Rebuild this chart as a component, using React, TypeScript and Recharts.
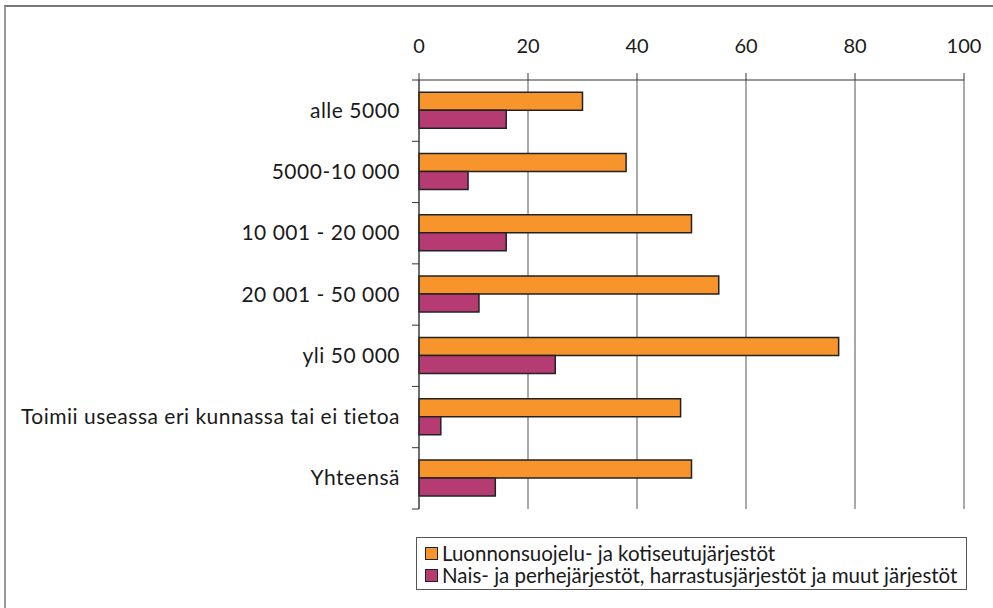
import React from 'react';
import { BarChart, Bar, XAxis, YAxis, CartesianGrid, Legend } from 'recharts';

const categories = [
    'alle 5000',
    '5000-10 000',
    '10 001 - 20 000',
    '20 001 - 50 000',
    'yli 50 000',
    'Toimii useassa eri kunnassa tai ei tietoa',
    'Yhteensä',
];
const luonto = [30, 38, 50, 55, 77, 48, 50];
const nais = [16, 9, 16, 11, 25, 4, 14];
const xTicks = [0, 20, 40, 60, 80, 100];

const seriesNames = [
    'Luonnonsuojelu- ja kotiseutujärjestöt',
    'Nais- ja perhejärjestöt, harrastusjärjestöt ja muut järjestöt',
];

const data = categories.map((name, i) => ({ name, luonto: luonto[i], nais: nais[i] }));

const FONT = 'Lato, "Open Sans", sans-serif';
const PLOT_TOP = 80;
const PLOT_BOTTOM = 509;
const BAND = (PLOT_BOTTOM - PLOT_TOP) / categories.length;

// category label + tick marks on the band boundaries (Excel style)
const CategoryTick = (props: any) => {
    const { x, y, payload, index } = props;
    const axisX = x + 19;
    const top = y - BAND / 2;
    return (
        <g>
            <line x1={axisX - 7} x2={axisX} y1={top} y2={top} stroke="#333" />
            {index === categories.length - 1 && (
                <line x1={axisX - 7} x2={axisX} y1={top + BAND} y2={top + BAND} stroke="#333" />
            )}
            <text
                x={x}
                y={y}
                dy={7}
                textAnchor="end"
                fill="#1a1a1a"
                fontSize={21}
                letterSpacing={0.5}
                fontFamily={FONT}
            >
                {payload.value}
            </text>
        </g>
    );
};

const LegendBox = ({ payload }: any) => (
    <div style={{ border: '1px solid #555', padding: '4px 8px', background: '#fff', boxSizing: 'border-box', height: 53 }}>
        {(payload || []).map((p: any, i: number) => (
            <div key={i} style={{ display: 'flex', alignItems: 'center', height: 22 }}>
                <span
                    style={{
                        display: 'inline-block',
                        width: 11,
                        height: 11,
                        background: p.color,
                        border: '1.5px solid #222',
                        marginRight: 4,
                    }}
                />
                <span style={{ fontSize: 20.5, fontFamily: FONT, color: '#1a1a1a', whiteSpace: 'nowrap' }}>{p.value}</span>
            </div>
        ))}
    </div>
);

export default function App() {
    return (
        <div style={{ position: 'absolute', left: 0, top: 0, width: 993, height: 608, background: '#fff' }}>
            <div
                style={{
                    position: 'absolute',
                    left: 4,
                    top: 5,
                    width: 993,
                    height: 608,
                    borderTop: '2px solid #777',
                    borderLeft: '2px solid #999',
                }}
            />
            <BarChart
                width={993}
                height={608}
                data={data}
                layout="vertical"
                margin={{ top: 40, right: 29, left: 0, bottom: 99 }}
                barCategoryGap="20%"
                barGap={0}
                style={{ position: 'absolute', left: 0, top: 0 }}
            >
                <CartesianGrid xAxisId="top" vertical horizontal={false} stroke="#555" />
                <XAxis
                    xAxisId="top"
                    type="number"
                    orientation="top"
                    domain={[0, 100]}
                    ticks={xTicks}
                    height={40}
                    tickSize={7}
                    tickMargin={20}
                    axisLine={{ stroke: '#333' }}
                    tickLine={{ stroke: '#333' }}
                    tick={{ fill: '#1a1a1a', fontSize: 20, fontFamily: FONT }}
                />
                <XAxis
                    xAxisId="bottom"
                    type="number"
                    orientation="bottom"
                    domain={[0, 100]}
                    ticks={xTicks}
                    height={0}
                    tick={false}
                    tickLine={false}
                    axisLine={{ stroke: '#999' }}
                />
                <YAxis
                    type="category"
                    dataKey="name"
                    width={419}
                    tickSize={7}
                    tickMargin={12}
                    tickLine={false}
                    axisLine={{ stroke: '#333' }}
                    tick={<CategoryTick />}
                    interval={0}
                />
                <Bar
                    xAxisId="top"
                    dataKey="luonto"
                    name={seriesNames[0]}
                    fill="#F7942B"
                    stroke="#222"
                    strokeWidth={1.5}
                    isAnimationActive={false}
                />
                <Bar
                    xAxisId="top"
                    dataKey="nais"
                    name={seriesNames[1]}
                    fill="#B73B73"
                    stroke="#222"
                    strokeWidth={1.5}
                    isAnimationActive={false}
                />
                <Legend
                    layout="horizontal"
                    verticalAlign="middle"
                    align="center"
                    content={<LegendBox />}
                    wrapperStyle={{ position: 'absolute', left: 416, top: 537, width: 551, height: 53, bottom: 'auto' }}
                />
            </BarChart>
        </div>
    );
}
